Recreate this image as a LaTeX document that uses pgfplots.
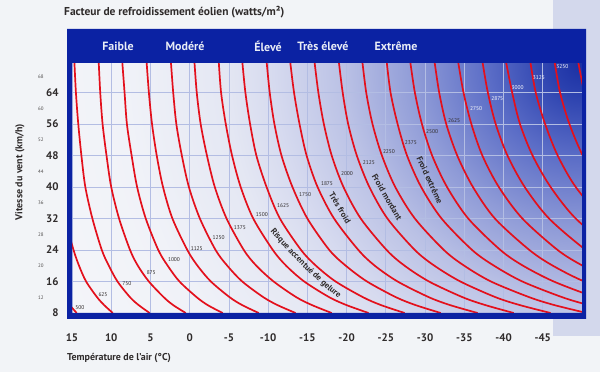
\documentclass[border=0pt]{standalone}
\usepackage{pgfplots}
\pgfplotsset{compat=1.18}
\usepackage{pgfplotstable}
\usepackage{fontspec}
\setmainfont{PT Sans}
\usetikzlibrary{decorations.text}
\definecolor{frameblue}{HTML}{0B22A3}
\definecolor{curvered}{HTML}{E3101C}
\definecolor{gridc}{HTML}{B3BDE3}
\definecolor{txt}{HTML}{2F2B2B}
\definecolor{bgc}{HTML}{F2F4F7}
\definecolor{lav}{HTML}{D3D8EC}
\definecolor{hdr}{HTML}{E8ECF6}
\definecolor{s0}{HTML}{1A2FA3}
\definecolor{s1}{HTML}{2A40AE}
\definecolor{s2}{HTML}{5A6CC6}
\definecolor{s3}{HTML}{8F9BD7}
\definecolor{s4}{HTML}{BAC1E5}
\definecolor{s5}{HTML}{D6DAEF}
\definecolor{s6}{HTML}{E4E7F3}
\definecolor{s7}{HTML}{F0F2F8}
\definecolor{s8}{HTML}{F4F5F9}
\pgfdeclareradialshading{wcshade}{\pgfpoint{0bp}{0bp}}{%
color(0bp)=(s0); color(30bp)=(s1); color(93bp)=(s2); color(167bp)=(s3);
color(238bp)=(s4); color(309bp)=(s5); color(357bp)=(s6); color(457bp)=(s7);
color(570bp)=(s8); color(700bp)=(s8)}

\pgfplotstableread{
v k4 k5 k6 k7 k8 k9 k10 k11 k12 k13 k14 k15 k16 k17 k18 k19 k20 k21 k22 k23 k24 k25 k26 k27
8 14.4 9.8 5.1 0.5 -4.2 -8.8 -13.5 -18.1 -22.8 -27.4 -32.0 -36.7 -41.3 -46.0 -50.6 -55.3 -59.9 -64.6 -69.2 -73.9 -78.5 -83.2 -87.8 -92.5
10 15.3 10.9 6.5 2.1 -2.3 -6.7 -11.2 -15.6 -20.0 -24.4 -28.8 -33.2 -37.7 -42.1 -46.5 -50.9 -55.3 -59.7 -64.2 -68.6 -73.0 -77.4 -81.8 -86.2
12 16.1 11.8 7.6 3.3 -0.9 -5.1 -9.4 -13.6 -17.8 -22.1 -26.3 -30.5 -34.8 -39.0 -43.3 -47.5 -51.7 -56.0 -60.2 -64.4 -68.7 -72.9 -77.1 -81.4
16 17.1 13.2 9.2 5.2 1.3 -2.7 -6.7 -10.7 -14.6 -18.6 -22.6 -26.5 -30.5 -34.5 -38.4 -42.4 -46.4 -50.3 -54.3 -58.3 -62.2 -66.2 -70.2 -74.1
20 17.9 14.1 10.3 6.6 2.8 -1.0 -4.8 -8.5 -12.3 -16.1 -19.9 -23.6 -27.4 -31.2 -35.0 -38.8 -42.5 -46.3 -50.1 -53.9 -57.6 -61.4 -65.2 -69.0
24 18.5 14.8 11.2 7.6 4.0 0.3 -3.3 -6.9 -10.6 -14.2 -17.8 -21.5 -25.1 -28.7 -32.4 -36.0 -39.6 -43.3 -46.9 -50.5 -54.1 -57.8 -61.4 -65.0
32 19.3 15.9 12.4 9.0 5.6 2.2 -1.3 -4.7 -8.1 -11.5 -15.0 -18.4 -21.8 -25.2 -28.7 -32.1 -35.5 -38.9 -42.4 -45.8 -49.2 -52.7 -56.1 -59.5
40 19.8 16.6 13.3 10.0 6.7 3.4 0.1 -3.2 -6.5 -9.8 -13.1 -16.3 -19.6 -22.9 -26.2 -29.5 -32.8 -36.1 -39.4 -42.7 -46.0 -49.2 -52.5 -55.8
48 20.2 17.0 13.8 10.6 7.4 4.2 1.0 -2.2 -5.4 -8.5 -11.7 -14.9 -18.1 -21.3 -24.5 -27.7 -30.9 -34.1 -37.3 -40.5 -43.7 -46.9 -50.1 -53.3
56 20.5 17.3 14.2 11.1 8.0 4.8 1.7 -1.4 -4.6 -7.7 -10.8 -14.0 -17.1 -20.2 -23.3 -26.5 -29.6 -32.7 -35.9 -39.0 -42.1 -45.3 -48.4 -51.5
64 20.7 17.6 14.5 11.4 8.3 5.2 2.1 -0.9 -4.0 -7.1 -10.2 -13.3 -16.4 -19.5 -22.5 -25.6 -28.7 -31.8 -34.9 -38.0 -41.1 -44.1 -47.2 -50.3
72 20.8 17.7 14.7 11.6 8.6 5.5 2.4 -0.6 -3.7 -6.7 -9.8 -12.8 -15.9 -19.0 -22.0 -25.1 -28.1 -31.2 -34.2 -37.3 -40.3 -43.4 -46.5 -49.5
}\wc

\begin{document}
\begin{tikzpicture}
\fill[bgc] (0bp,0bp) rectangle (600bp,372bp);
\fill[lav] (553bp,36bp) rectangle (600bp,372bp);
\begin{scope}
\clip (72bp,59bp) rectangle (582bp,309bp);
\pgftransformshift{\pgfpoint{582bp}{309bp}}
\pgflowlevelsynccm
\pgfuseshading{wcshade}
\end{scope}
\begin{axis}[
  at={(72bp,59bp)}, anchor=south west,
  scale only axis, width=510bp, height=250bp,
  x dir=reverse, xmin=-50, xmax=15, ymin=8, ymax=71.5,
  xtick={-45,-40,...,15}, ytick={8,16,...,64},
  extra y ticks={12,20,...,68},
  extra y tick style={grid=none, yticklabel style={font=\fontsize{5}{6}\selectfont, text=txt!85, xshift=-15bp}},
  grid=major, major grid style={gridc, line width=0.8bp},
  major tick length=0pt, minor tick length=0pt,
  axis line style={draw=none},
  /pgf/number format/assume math mode=true,
  xticklabel style={font=\bfseries\fontsize{11}{12}\selectfont, text=txt, yshift=-17bp},
  yticklabel style={font=\bfseries\fontsize{11}{12}\selectfont, text=txt, xshift=-10bp},
]
\pgfplotsinvokeforeach{4,...,27}{
  \addplot[curvered, line width=1.7bp, smooth, no marks] table[x=k#1, y=v]{\wc};
}
\begin{scope}[every node/.style={font=\fontsize{5.5}{6}\selectfont, text=txt, inner sep=0.5bp}]
\node at (axis cs:14.0,9.5) {500};
\node at (axis cs:11.05,12.6) {625};
\node at (axis cs:8.0,15.4) {750};
\node at (axis cs:4.9,18.2) {875};
\node at (axis cs:2.0,21.5) {1000};
\node at (axis cs:-0.9,24.3) {1125};
\node at (axis cs:-3.7,27.05) {1250};
\node at (axis cs:-6.4,29.8) {1375};
\node at (axis cs:-9.2,32.9) {1500};
\node at (axis cs:-11.9,35.2) {1625};
\node at (axis cs:-14.7,38.0) {1750};
\node at (axis cs:-17.5,40.8) {1875};
\node at (axis cs:-20.05,43.3) {2000};
\node at (axis cs:-22.85,46.1) {2125};
\node at (axis cs:-25.4,48.9) {2250};
\node at (axis cs:-28.2,51.4) {2375};
\node at (axis cs:-30.9,54.0) {2500};
\node at (axis cs:-33.7,57.0) {2625};
\node[text=white] at (axis cs:-36.5,59.8) {2750};
\node[text=white] at (axis cs:-39.2,62.4) {2875};
\node[text=white] at (axis cs:-41.8,65.2) {3000};
\node[text=white] at (axis cs:-44.5,67.7) {3125};
\node[text=white] at (axis cs:-47.5,70.7) {3250};
\end{scope}
\begin{scope}[every node/.style={font=\bfseries\fontsize{8.5}{9}\selectfont, text=txt, inner sep=0pt}]
\node[rotate=-59] at (axis cs:-19.16,34.67) {Très froid};
\node[rotate=-60] at (axis cs:-25.15,37.46) {Froid mordant};
\node[rotate=-65] at (axis cs:-30.6,41.8) {Froid extrême};
\end{scope}
\path[decorate, decoration={text along path, text align=center, raise=-3bp,
  text={|\bfseries\fontsize{8.5}{9}\selectfont\color{txt}|Risque accentué de gelure}}]
  (axis cs:-8.96,33.15) .. controls (axis cs:-12.1,25.15) and (axis cs:-17.42,13.97) .. (axis cs:-21.29,9.52);
\end{axis}
\fill[frameblue, even odd rule] (67bp,53bp) rectangle (586bp,343bp) (72bp,59bp) rectangle (582bp,309bp);
\begin{scope}[every node/.style={font=\bfseries\fontsize{12}{14}\selectfont, text=hdr}]
\node at (118bp,326bp) {Faible};
\node at (185bp,326bp) {Modéré};
\node at (268bp,326bp) {Élevé};
\node at (323bp,326bp) {Très élevé};
\node at (396bp,326bp) {Extrême};
\end{scope}
\node[anchor=west, font=\bfseries\fontsize{11.5}{12}\selectfont, text=txt, inner sep=0pt] at (64bp,360bp) {Facteur de refroidissement éolien (watts/m²)};
\node[anchor=west, font=\bfseries\fontsize{10}{11}\selectfont, text=txt, inner sep=0pt] at (67bp,14bp) {Température de l'air (°C)};
\node[rotate=90, font=\bfseries\fontsize{10}{11}\selectfont, text=txt, inner sep=0pt] at (20bp,200bp) {Vitesse du vent (km/h)};
\pgfresetboundingbox
\path[use as bounding box] (0bp,0bp) rectangle (600bp,372bp);
\end{tikzpicture}
\end{document}
